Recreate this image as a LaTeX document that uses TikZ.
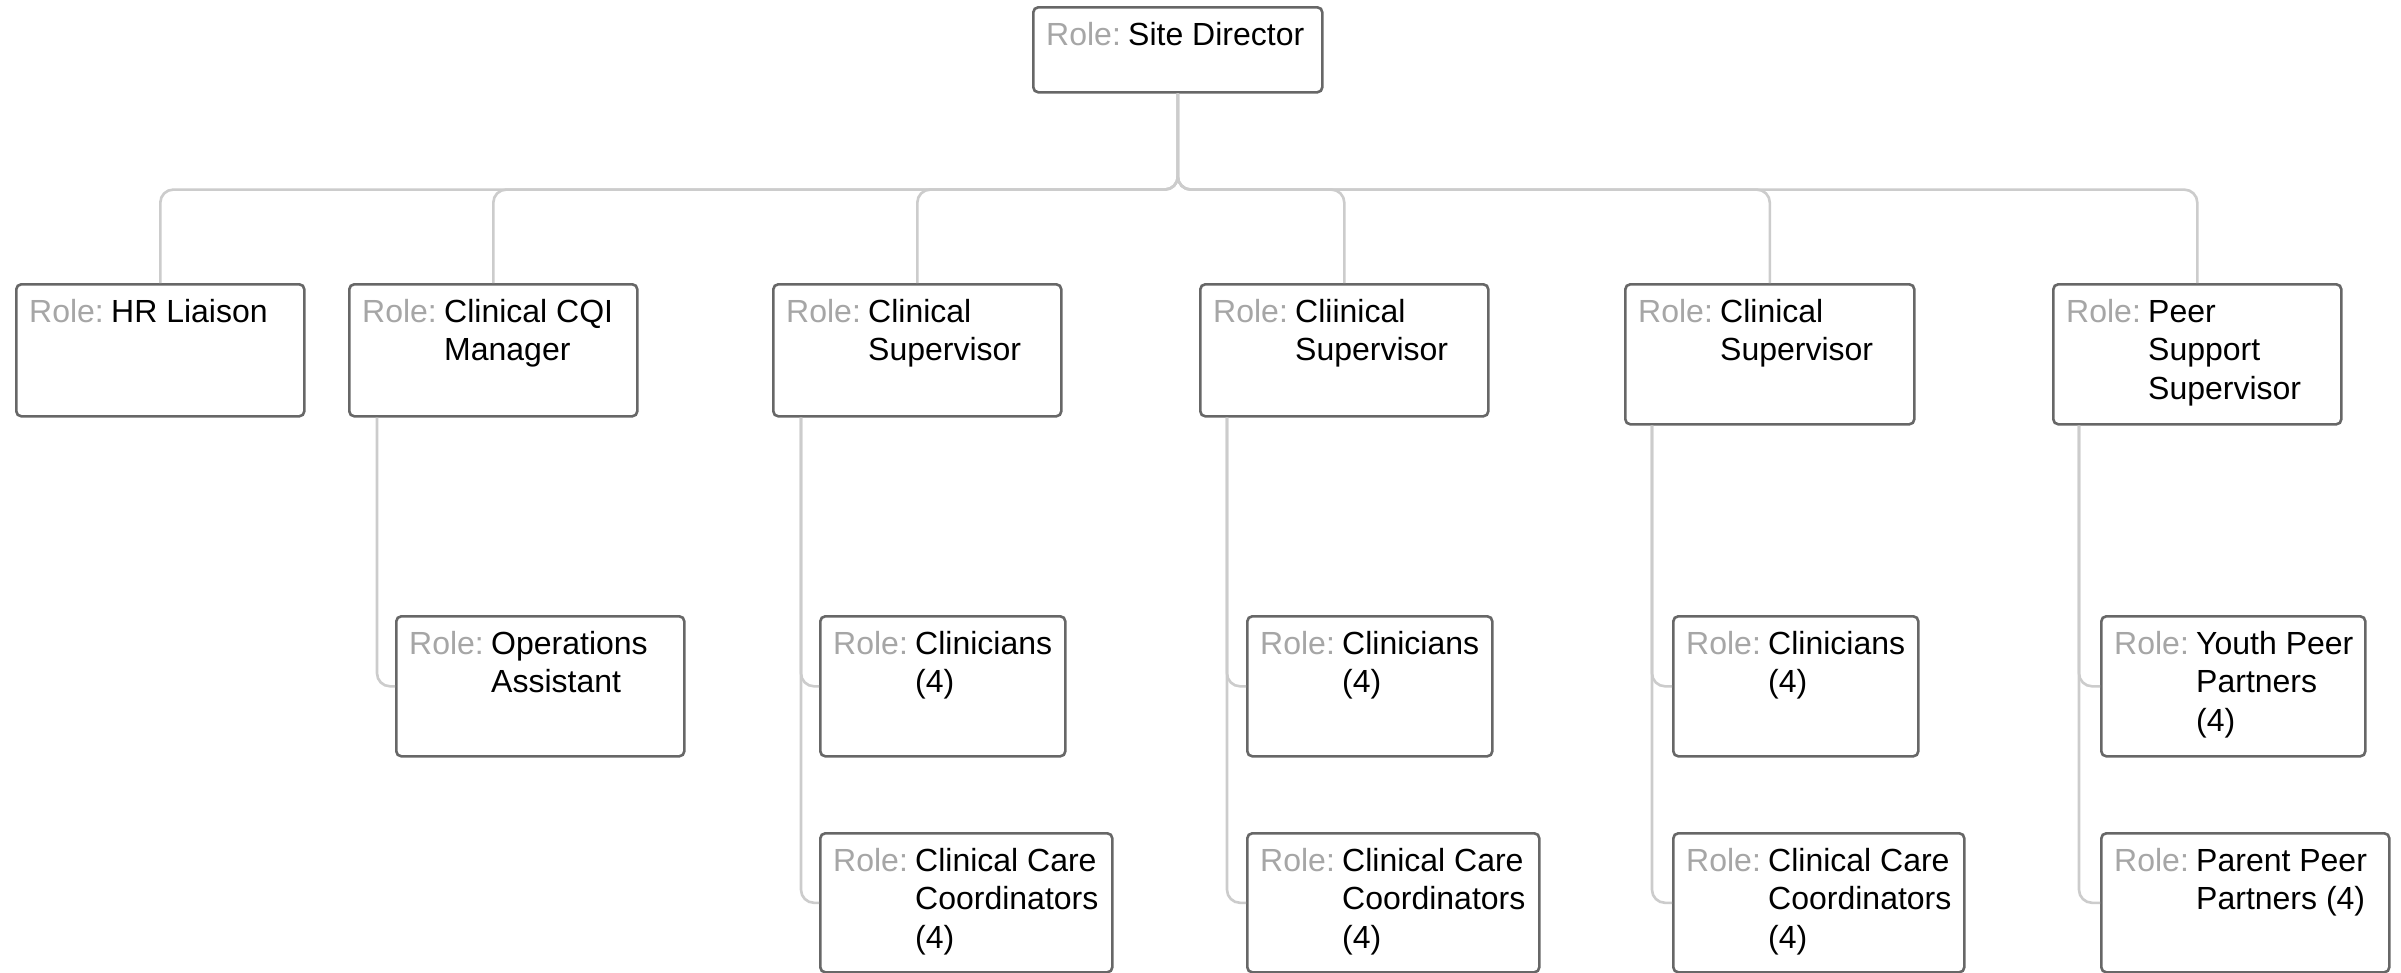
\documentclass[tikz,border=0pt]{standalone}
\usepackage{fontspec}
\setmainfont{Liberation Sans}
\definecolor{rolegray}{HTML}{A6A6A6}
\definecolor{boxgray}{HTML}{676767}
\definecolor{linkgray}{HTML}{CCCCCC}
\tikzset{
  orgbox/.style={draw=boxgray, line width=2.6pt, rounded corners=5pt, fill=white,
    inner sep=0pt, anchor=north west},
  roletext/.style={anchor=base west, inner sep=0pt, font=\fontsize{32}{38.5}\selectfont},
  link/.style={draw=linkgray, line width=2.6pt, rounded corners=13pt},
}
% box: name, x, y, width, height
\newcommand\orgunit[5]{\node[orgbox, minimum width=#4pt, minimum height=#5pt] (#1) at (#2,#3) {};}
% text inside a box: name, role lines
\newcommand\rolelabel[2]{\node[roletext] (#1-t) at ([xshift=14pt,yshift=-39pt]#1.north west)
  {\makebox[82pt][l]{\textcolor{rolegray}{Role:}}\parbox[t]{320pt}{\raggedright #2}};}
\begin{document}
\begin{tikzpicture}[x=1pt, y=-1pt]
  \fill[white] (0,0) rectangle (2401,972);
  \useasboundingbox (0,0) rectangle (2401,972);

  % top
  \orgunit{sd}{1032}{6}{289}{85}
  % first level
  \orgunit{hr}{15}{283}{288}{132}
  \orgunit{cqi}{348}{283}{288}{132}
  \orgunit{csa}{772}{283}{288}{132}
  \orgunit{csb}{1199}{283}{288}{132}
  \orgunit{csc}{1624}{283}{289}{140}
  \orgunit{pss}{2052}{283}{288}{140}
  % second level
  \orgunit{ops}{395}{615}{288}{140}
  \orgunit{cla}{819}{615}{245}{140}
  \orgunit{clb}{1246}{615}{245}{140}
  \orgunit{clc}{1672}{615}{245}{140}
  \orgunit{ypp}{2100}{615}{264}{140}
  % third level
  \orgunit{cca}{819}{832}{292}{139}
  \orgunit{ccb}{1246}{832}{292}{139}
  \orgunit{ccc}{1672}{832}{291}{139}
  \orgunit{ppp}{2100}{832}{288}{139}

  \rolelabel{sd}{Site Director}
  \rolelabel{hr}{HR Liaison}
  \rolelabel{cqi}{Clinical CQI\\Manager}
  \rolelabel{csa}{Clinical\\Supervisor}
  \rolelabel{csb}{Cliinical\\Supervisor}
  \rolelabel{csc}{Clinical\\Supervisor}
  \rolelabel{pss}{Peer\\Support\\Supervisor}
  \rolelabel{ops}{Operations\\Assistant}
  \rolelabel{cla}{Clinicians\\(4)}
  \rolelabel{clb}{Clinicians\\(4)}
  \rolelabel{clc}{Clinicians\\(4)}
  \rolelabel{ypp}{Youth Peer\\Partners\\(4)}
  \rolelabel{cca}{Clinical Care\\Coordinators\\(4)}
  \rolelabel{ccb}{Clinical Care\\Coordinators\\(4)}
  \rolelabel{ccc}{Clinical Care\\Coordinators\\(4)}
  \rolelabel{ppp}{Parent Peer\\Partners (4)}

  % director to first level
  \foreach \c in {hr,cqi,csa,csb,csc,pss}
    \draw[link] (sd.south) -- ++(0,96) -| (\c.north);

  % first level to their teams
  \draw[link] ([xshift=29pt]cqi.south west) |- (ops.west);
  \draw[link] ([xshift=29pt]csa.south west) |- (cla.west);
  \draw[link] ([xshift=29pt]csa.south west) |- (cca.west);
  \draw[link] ([xshift=28pt]csb.south west) |- (clb.west);
  \draw[link] ([xshift=28pt]csb.south west) |- (ccb.west);
  \draw[link] ([xshift=28pt]csc.south west) |- (clc.west);
  \draw[link] ([xshift=28pt]csc.south west) |- (ccc.west);
  \draw[link] ([xshift=27pt]pss.south west) |- (ypp.west);
  \draw[link] ([xshift=27pt]pss.south west) |- (ppp.west);
\end{tikzpicture}
\end{document}
